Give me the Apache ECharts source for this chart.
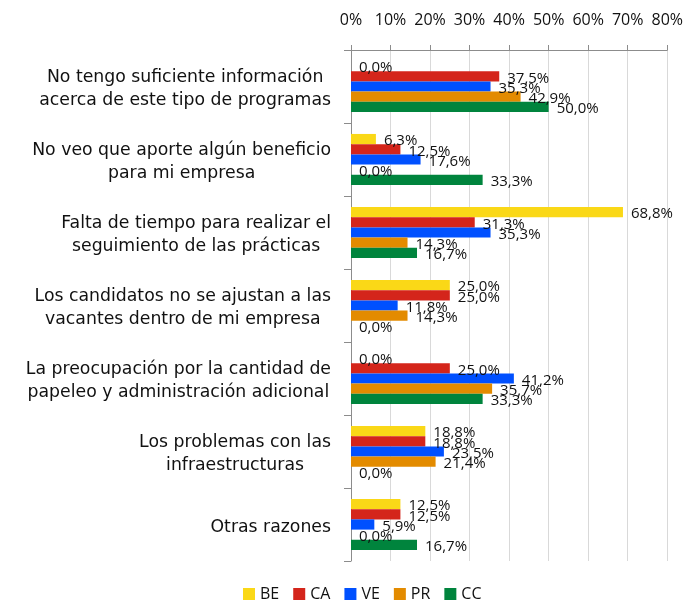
<!DOCTYPE html>
<html>
<head>
    <meta charset="UTF-8">
    <title></title>
    <script src="https://cdn.jsdelivr.net/npm/echarts@6/dist/echarts.min.js"></script>
    <style>
        *{margin:0;padding:0;}
        body,html{
            height: 100%;
            width: 100%;
            background: #fff;
        }
        #main{
            width: 686px;
            height: 607px;
        }
    </style>
</head>
<body>
<div id="main"></div>
<script>
    // categorias (de arriba a abajo)
    var categories = [
        'No tengo suficiente información\nacerca de este tipo de programas',
        'No veo que aporte algún beneficio\npara mi empresa',
        'Falta de tiempo para realizar el\nseguimiento de las prácticas',
        'Los candidatos no se ajustan a las\nvacantes dentro de mi empresa',
        'La preocupación por la cantidad de\npapeleo y administración adicional',
        'Los problemas con las\ninfraestructuras',
        'Otras razones'
    ];
    var xTicks = [0, 10, 20, 30, 40, 50, 60, 70, 80];

    var seriesNames = ['BE', 'CA', 'VE', 'PR', 'CC'];
    var BE = [0.0, 6.3, 68.8, 25.0, 0.0, 18.8, 12.5];
    var CA = [37.5, 12.5, 31.3, 25.0, 25.0, 18.8, 12.5];
    var VE = [35.3, 17.6, 35.3, 11.8, 41.2, 23.5, 5.9];
    var PR = [42.9, 0.0, 14.3, 14.3, 35.7, 21.4, 0.0];
    var CC = [50.0, 33.3, 16.7, 0.0, 33.3, 0.0, 16.7];
    var colors = ['#FAD817', '#D4251B', '#0050FF', '#E38B00', '#00843D'];

    var font = "'Open Sans', sans-serif";
    var catFont = "'DejaVu Sans', sans-serif";

    function makeSeries(name, data, color) {
        return {
            name: name,
            type: 'bar',
            data: data,
            barGap: '0%',
            barCategoryGap: '30%',
            itemStyle: {color: color},
            label: {
                show: true,
                position: 'right',
                distance: 8,
                offset: [0, 2],
                color: '#111',
                fontFamily: font,
                fontSize: 15,
                formatter: function (p) {
                    return p.value.toFixed(1).replace('.', ',') + '%';
                }
            }
        };
    }

    var myChart = echarts.init(document.getElementById('main'));
    var option = {
        animation: false,
        color: colors,
        textStyle: {fontFamily: font},
        grid: {left: 351, right: 16, top: 50, bottom: 46, containLabel: false},
        legend: {
            bottom: 0,
            left: 238,
            icon: 'rect',
            itemWidth: 12,
            itemHeight: 12,
            itemGap: 14,
            textStyle: {fontFamily: font, fontSize: 16, color: '#111', padding: [0, 0, 0, 0]},
            data: seriesNames
        },
        xAxis: {
            type: 'value',
            position: 'top',
            min: xTicks[0],
            max: xTicks[xTicks.length - 1],
            interval: 10,
            axisLine: {show: true, lineStyle: {color: '#8c8c8c', width: 1}},
            axisTick: {show: true, length: 5, lineStyle: {color: '#8c8c8c'}},
            axisLabel: {
                margin: 22,
                fontSize: 16,
                color: '#111',
                fontFamily: font,
                formatter: '{value}%'
            },
            splitLine: {show: true, lineStyle: {color: '#d9d9d9'}}
        },
        yAxis: {
            type: 'category',
            inverse: true,
            data: categories,
            axisLine: {show: true, lineStyle: {color: '#8c8c8c'}},
            axisTick: {show: true, length: 7, alignWithLabel: false, lineStyle: {color: '#8c8c8c'}},
            axisLabel: {
                margin: 20,
                padding: [6, 0, 0, 0],
                color: '#111',
                fontFamily: catFont,
                fontSize: 17.3,
                lineHeight: 23,
                formatter: function (v) {
                    return v.split('\n').map(function (s) { return '{c|' + s + '}'; }).join('\n');
                },
                rich: {
                    c: {align: 'center', fontSize: 17.3, lineHeight: 23, fontFamily: catFont, color: '#111'}
                }
            }
        },
        series: [
            makeSeries(seriesNames[0], BE, colors[0]),
            makeSeries(seriesNames[1], CA, colors[1]),
            makeSeries(seriesNames[2], VE, colors[2]),
            makeSeries(seriesNames[3], PR, colors[3]),
            makeSeries(seriesNames[4], CC, colors[4])
        ]
    };
    myChart.setOption(option);
</script>
</body>
</html>
